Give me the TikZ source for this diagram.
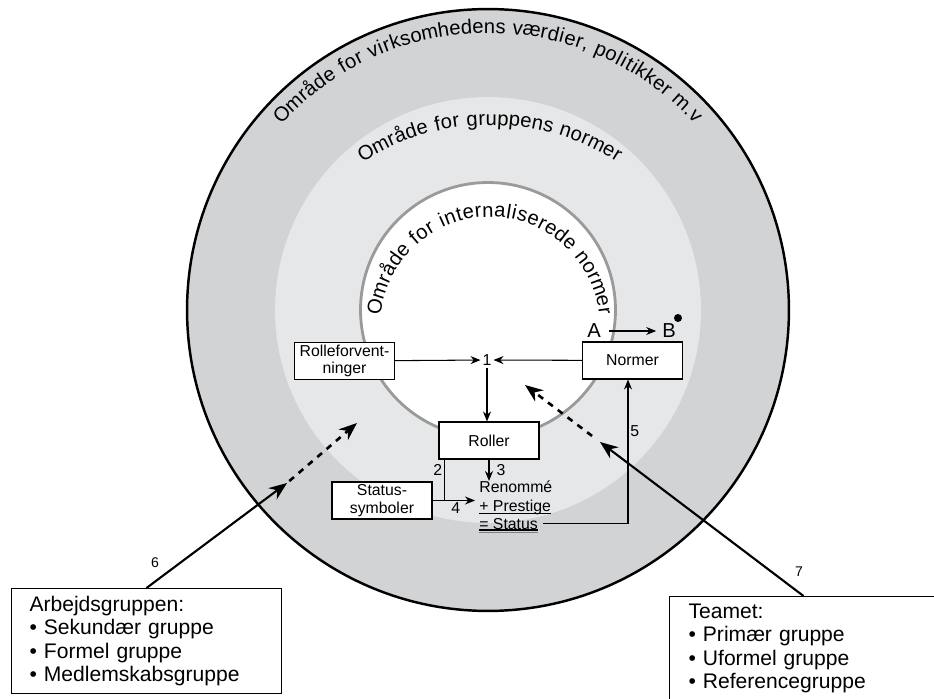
\documentclass[tikz,border=0pt]{standalone}
\usepackage{fontspec}
\setmainfont{Liberation Sans}
\usetikzlibrary{arrows.meta,decorations.text}
\definecolor{zoneouter}{HTML}{D1D3D4}
\definecolor{zonemid}{HTML}{E6E7E8}
\definecolor{ringgray}{HTML}{9A9A9A}
\newcommand\zonefont{\fontsize{11.5}{14}\selectfont}
\newcommand\smallfont{\fontsize{9}{10}\selectfont}

\begin{document}
\begin{tikzpicture}[x=0.02cm, y=0.02cm,
    box/.style={draw, fill=white, line width=0.6pt, minimum width=2cm, minimum height=0.74cm, inner sep=1pt, align=center, font=\smallfont},
    num/.style={font=\smallfont, inner sep=1pt},
    lbl/.style={font=\smallfont, inner sep=0pt, anchor=base west},
    grp/.style={draw, fill=white, line width=0.6pt, anchor=north west, align=left, font=\fontsize{12}{13.3}\selectfont, inner xsep=0.36cm, inner ysep=0.15cm},
    lnk/.style={-{Stealth[length=0.2cm, width=0.16cm]}, line width=0.6pt},
    bigarr/.style={-{Stealth[length=0.36cm, width=0.28cm]}, line width=1.2pt},
    dasharr/.style={bigarr, line width=1.5pt, dash pattern=on 3.5pt off 3.5pt},
    curve/.style={decorate, decoration={text effects along path, text align=center,
        text effects/.cd, text along path, characters={font=\zonefont}, character widths={inner xsep=0.45pt}}}
]
    \useasboundingbox (0,0) rectangle (934,-699);
    \clip (0,0) rectangle (934,-699);

    % zones
    \fill[zoneouter, draw=black, line width=1.4pt] (488,-310) circle (6.02cm);
    \fill[zonemid] (488,-310) circle (4.26cm);
    \fill[white, draw=ringgray, line width=1.6pt] (488,-310) circle (2.55cm);

    % zone titles along the rings
    \path[curve, decoration={text={Område for virksomhedens værdier, politikker m.v}}]
        (488,-313) ++(180:5.6cm) arc[start angle=180, end angle=0, radius=5.6cm];
    \path[curve, decoration={text={Område for gruppens normer}}]
        (490,-362) ++(180:4.74cm) arc[start angle=180, end angle=0, radius=4.74cm];
    \path[curve, decoration={text={Område for internaliserede normer}}]
        (490,-327) ++(180:2.2cm) arc[start angle=180, end angle=0, radius=2.2cm];

    % boxes
    \node[box] (forv) at (344.5,-361) {Rolleforvent-\\ninger};
    \node[box] (norm) at (632.5,-360.5) {Normer};
    \node[box] (roll) at (489,-440.5) {Roller};
    \node[box] (stsym) at (382,-500.5) {Status-\\symboler};
    \node[num] (one) at (487,-360) {1};

    % status sum
    \node[lbl] (ren) at (479,-493) {Renommé};
    \node[lbl] (pres) at (479,-511) {+ Prestige};
    \node[lbl] (stat) at (479,-529) {= Status};
    \draw[line width=0.6pt] ([yshift=-0.05cm]pres.base west) -- ([yshift=-0.05cm]pres.base east);
    \draw[line width=0.6pt] ([yshift=-0.02cm]stat.base west) -- ([yshift=-0.02cm]stat.base east);
    \draw[line width=0.6pt, gray] ([yshift=-0.07cm]stat.base west) -- ([yshift=-0.07cm]stat.base east);

    % A -> B
    \node[font=\fontsize{11.5}{13}\selectfont, inner sep=1pt] (pa) at (594,-331) {A};
    \node[font=\fontsize{11.5}{13}\selectfont, inner sep=1pt] (pb) at (669,-331) {B};
    \fill (678,-318) circle (0.08cm);
    \draw[lnk, shorten <=0.12cm, shorten >=0.08cm] (pa) -- (pb);

    % links
    \draw[lnk] (forv) -- (one);
    \draw[lnk] (norm) -- (one);
    \draw[lnk] (one.south) -- (one.south |- roll.north);
    \draw[lnk] (roll.south) -- (roll.south |- ren.north) node[midway, right=3pt, num] (n3) {3};
    \draw[line width=0.6pt] ([xshift=0.12cm]roll.south west) |- (stsym.east) node[pos=0.13, left, num] (n2) {2};
    \draw[lnk, shorten >=0.08cm] (stsym.east) -- (stsym.east -| pres.west) node[midway, below, num] (n4) {4};
    \draw[lnk] ([xshift=0.1cm]stat.east) -| ([xshift=-0.09cm]norm.south) node[pos=0.82, right, num] (n5) {5};

    % groups
    \coordinate (t6) at (287,-483);
    \coordinate (d6) at (357,-423);
    \coordinate (t7) at (600,-442);
    \coordinate (d7) at (525,-385);
    \node[grp, text width=4.68cm] (arb) at (11,-588) {Arbejdsgruppen:\\• Sekundær gruppe\\• Formel gruppe\\• Medlemskabsgruppe};
    \node[grp, text width=4.6cm, inner xsep=0.38cm] (team) at (669,-596) {Teamet:\\• Primær gruppe\\• Uformel gruppe\\• Referencegruppe\rule[-0.6cm]{0pt}{0pt}};
    \draw[bigarr] (arb.north) -- (t6);
    \draw[dasharr, shorten <=0.06cm] (t6) -- (d6);
    \draw[bigarr] (team.north) -- (t7);
    \draw[dasharr, shorten <=0.2cm] (t7) -- (d7);
    \node[font=\fontsize{8}{9}\selectfont] (n6) at (155,-563) {6};
    \node[font=\fontsize{8}{9}\selectfont] (n7) at (799,-572) {7};
\end{tikzpicture}
\end{document}
